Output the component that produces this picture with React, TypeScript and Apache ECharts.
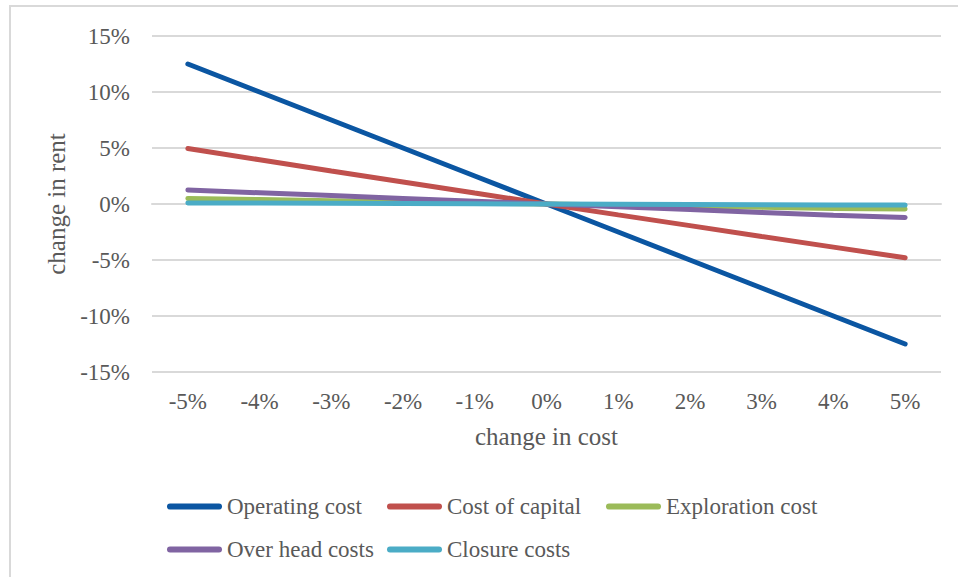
import React, { useEffect, useRef } from "react";
import * as echarts from "echarts";

const categories = ["-5%", "-4%", "-3%", "-2%", "-1%", "0%", "1%", "2%", "3%", "4%", "5%"];
const operatingCost = [12.5, 10, 7.5, 5, 2.5, 0, -2.5, -5, -7.5, -10, -12.5];
const costOfCapital = [4.95, 3.95, 2.95, 1.97, 0.98, 0, -0.97, -1.93, -2.9, -3.85, -4.8];
const explorationCost = [0.5, 0.4, 0.3, 0.2, 0.1, 0, -0.1, -0.2, -0.3, -0.4, -0.45];
const overHeadCosts = [1.25, 1.0, 0.75, 0.5, 0.25, 0, -0.25, -0.5, -0.75, -1.0, -1.2];
const closureCosts = [0.1, 0.08, 0.06, 0.04, 0.02, 0, -0.02, -0.04, -0.06, -0.08, -0.1];

const FONT = "'Liberation Serif', 'DejaVu Serif', serif";
const TEXT = "#595959";
const FS = 23;
const TITLE_FS = 25;

const ICON = "path://M3,0 H52 A3,3 0 0 1 52,6 H3 A3,3 0 0 1 3,0 Z";

export default function App() {
  const ref = useRef<HTMLDivElement>(null);
  useEffect(() => {
    document.body.style.margin = "0";
    const chart = echarts.init(ref.current!, null, { renderer: "svg" });
    const mk = (name: string, data: number[], color: string) => ({
      name,
      type: "line",
      data,
      symbol: "none",
      lineStyle: { width: 5, color, cap: "round" },
      itemStyle: { color },
    });
    const legendBase = {
      orient: "vertical",
      top: 490,
      itemWidth: 55,
      itemHeight: 6,
      itemGap: 20,
      icon: ICON,
      textStyle: { fontFamily: FONT, fontSize: FS, color: TEXT },
    };
    chart.setOption({
      animation: false,
      backgroundColor: "#ffffff",
      graphic: [
        {
          type: "rect",
          shape: { x: 10, y: 6, width: 1000, height: 1000 },
          style: { fill: "none", stroke: "#d9d9d9", lineWidth: 2 },
          silent: true,
        },
      ],
      grid: { left: 152, right: 17, top: 36, bottom: 205 },
      legend: [
        { ...legendBase, left: 162, data: ["Operating cost", "Over head costs"] },
        { ...legendBase, left: 382, data: ["Cost of capital", "Closure costs"] },
        { ...legendBase, left: 601, data: ["Exploration cost"] },
      ],
      xAxis: {
        type: "category",
        data: categories,
        boundaryGap: true,
        name: "change in cost",
        nameLocation: "middle",
        nameGap: 52,
        nameTextStyle: { fontFamily: FONT, fontSize: TITLE_FS, color: TEXT },
        axisLine: { show: true, lineStyle: { color: "#d9d9d9", width: 2 } },
        axisTick: { show: false },
        axisLabel: { margin: 18, fontFamily: FONT, fontSize: FS, color: TEXT },
      },
      yAxis: {
        type: "value",
        min: -15,
        max: 15,
        interval: 5,
        name: "change in rent",
        nameLocation: "middle",
        nameRotate: 90,
        nameGap: 76,
        nameTextStyle: { fontFamily: FONT, fontSize: TITLE_FS, color: TEXT },
        axisLine: { show: false },
        axisTick: { show: false },
        splitLine: { lineStyle: { color: "#d9d9d9", width: 2 } },
        axisLabel: {
          margin: 22,
          fontFamily: FONT,
          fontSize: FS,
          color: TEXT,
          formatter: (v: number) => `${v}%`,
        },
      },
      series: [
        mk("Operating cost", operatingCost, "#0b56a2"),
        mk("Cost of capital", costOfCapital, "#c0504d"),
        mk("Exploration cost", explorationCost, "#9bbb59"),
        mk("Over head costs", overHeadCosts, "#8064a2"),
        mk("Closure costs", closureCosts, "#4bacc6"),
      ],
    });
    return () => chart.dispose();
  }, []);
  return <div ref={ref} style={{ width: 958, height: 577 }} />;
}
